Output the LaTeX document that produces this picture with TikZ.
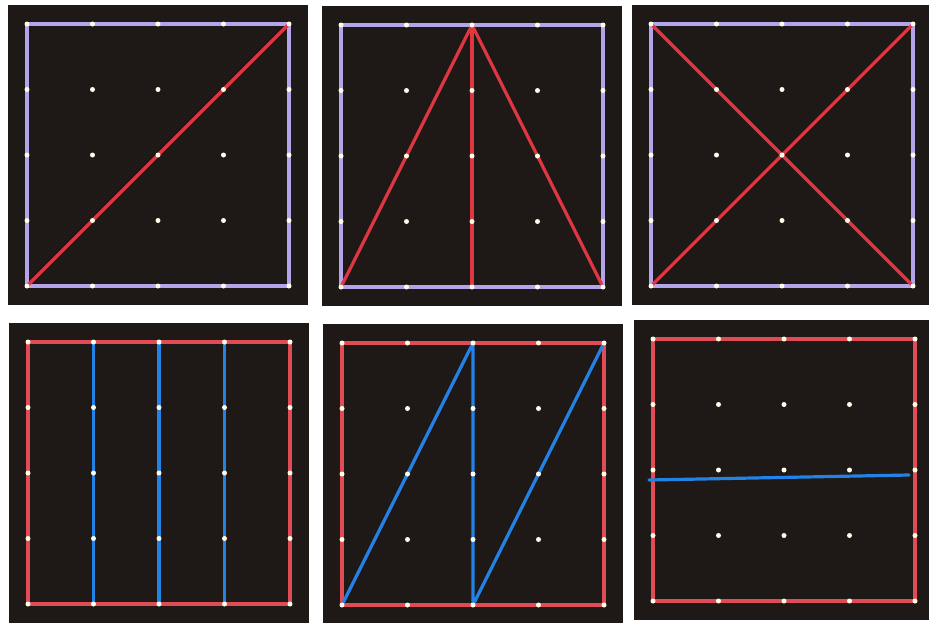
\documentclass[tikz,border=0pt]{standalone}
\usepackage{tikz}
\definecolor{boardbg}{RGB}{30,24,22}
\definecolor{lilac}{RGB}{180,165,235}
\definecolor{bandred}{RGB}{222,55,65}
\definecolor{rimred}{RGB}{225,75,85}
\definecolor{bandblue}{RGB}{35,130,230}
\tikzset{
  board/.style={fill=boardbg},
  rim/.style={draw=#1, line width=3.6pt, line join=round},
  band/.style={draw=#1, line width=3.2pt, line cap=round, line join=round},
  peg/.style={circle, fill=white!92!yellow, inner sep=0pt, minimum size=5pt}
}

\begin{document}
\begin{tikzpicture}[x=1pt, y=-1pt]
        \useasboundingbox[fill=white] (0,0) rectangle (929,622);

        % six boards with 5x5 pegs
        \foreach \n/\x/\y in {a/27/24, b/341/25, c/651/24, d/28/342, e/342/343, f/653/339} {
            \fill[board] (\x-19,\y-19) rectangle (\x+281,\y+281);
            \foreach \i in {0,...,4}
                \foreach \j in {0,...,4}
                    \coordinate (\n-\i-\j) at (\x+65.5*\i,\y+65.5*\j);
        }

        % top row
        \foreach \n in {a,b,c}
            \draw[rim=lilac] (\n-0-0) rectangle (\n-4-4);
        \draw[band=bandred] (a-0-4) -- (a-4-0);
        \draw[band=bandred] (b-0-4) -- (b-2-0) -- (b-4-4);
        \draw[band=bandred] (b-2-0) -- (b-2-4);
        \draw[band=bandred] (c-0-0) -- (c-4-4);
        \draw[band=bandred] (c-0-4) -- (c-4-0);

        % bottom row
        \foreach \n in {d,e,f}
            \draw[rim=rimred] (\n-0-0) rectangle (\n-4-4);
        \foreach \i in {1,2,3}
            \draw[band=bandblue] (d-\i-0) -- (d-\i-4);
        \draw[band=bandblue] (e-0-4) -- (e-2-0) -- (e-2-4) -- (e-4-0);
        \draw[band=bandblue] ([shift={(-4,10)}]f-0-2) -- ([shift={(-6,5)}]f-4-2);

        % pegs on top
        \foreach \n in {a,b,c,d,e,f}
            \foreach \i in {0,...,4}
                \foreach \j in {0,...,4}
                    \node[peg] (\n-peg-\i-\j) at (\n-\i-\j) {};
\end{tikzpicture}
\end{document}
